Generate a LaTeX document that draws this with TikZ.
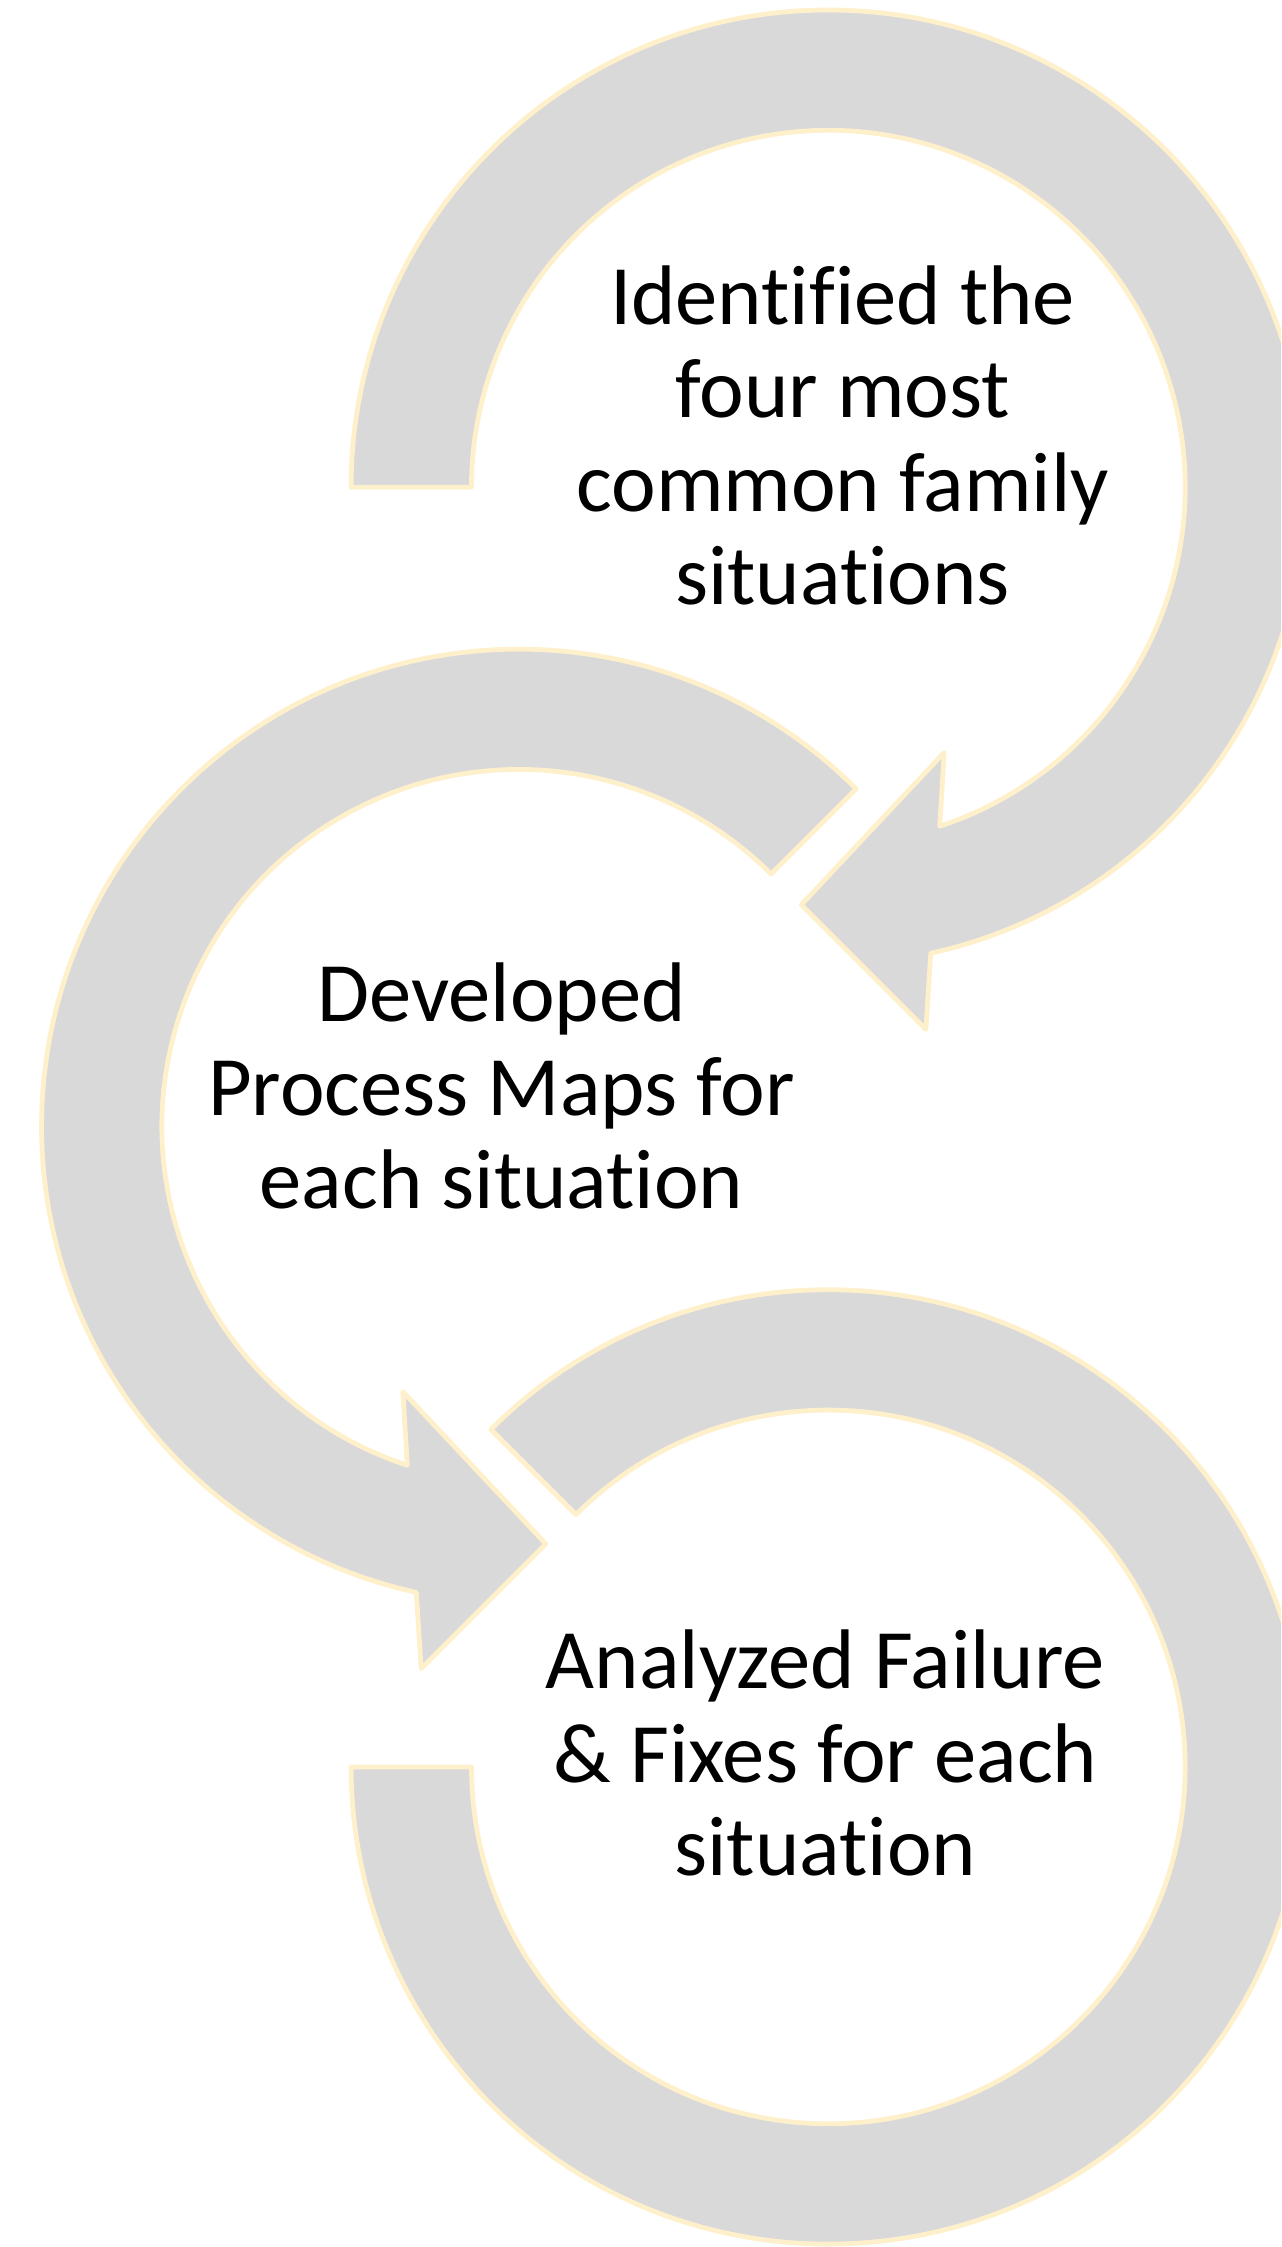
\documentclass[tikz,border=0pt]{standalone}
\usepackage{fontspec}
\setmainfont[Ligatures={NoCommon}]{Carlito}
\usetikzlibrary{calc}
\definecolor{arrowfill}{HTML}{D9D9D9}
\definecolor{arrowline}{HTML}{FFF0CC}
\begin{document}
\begin{tikzpicture}[x=0.02cm,y=0.02cm,
  cyclearrow/.style={fill=arrowfill,draw=arrowline,line width=1.9pt,line join=round},
  steptext/.style={align=center,inner sep=0pt,text=black,font=\fontsize{33.6}{37.13}\selectfont}]
\useasboundingbox (0,0) rectangle (894,1568);
\clip (0,0) rectangle (894,1568);
\coordinate (C1) at (578,1228);
\coordinate (C2) at (362,782);
\coordinate (C3) at (578,335);
% bottom ring (no arrowhead, flat tail end on the left)
\path[cyclearrow] ($(C3)+(135:333)$) arc[start angle=135,end angle=-180,radius=333]
  -- ($(C3)+(180:249)$) arc[start angle=-180,end angle=135,radius=249] -- cycle;
% middle ring
\path[cyclearrow] ($(C2)+(45:333)$) arc[start angle=45,end angle=257.6,radius=333]
  -- ($(C2)+(259.8:384.5)$) -- ($(C2)+(273.7:292)$) -- ($(C2)+(246.4:202)$)
  -- ($(C2)+(251.8:249)$) arc[start angle=251.8,end angle=45,radius=249] -- cycle;
% top ring
\path[cyclearrow] ($(C1)+(180:333)$) arc[start angle=180,end angle=-77.6,radius=333]
  -- ($(C1)+(-79.8:384.5)$) -- ($(C1)+(-93.7:292)$) -- ($(C1)+(-66.4:202)$)
  -- ($(C1)+(-71.8:249)$) arc[start angle=-71.8,end angle=180,radius=249] -- cycle;
\node[steptext] (t1) at (588,1264) {Identified the\\four most\\common family\\situations};
\node[steptext] (t2) at (350,810) {Developed\\Process Maps for\\each situation};
\node[steptext] (t3) at (576,344.5) {Analyzed Failure\\\& Fixes for each\\situation};
\end{tikzpicture}
\end{document}
